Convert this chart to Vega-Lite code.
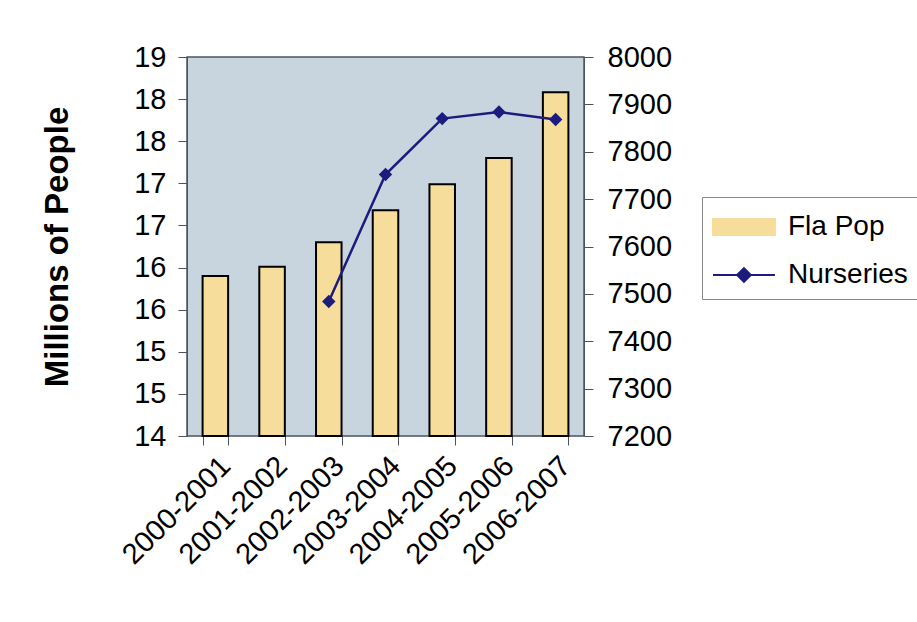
{
  "$schema": "https://vega.github.io/schema/vega-lite/v6.json",
  "width": 397,
  "height": 379,
  "autosize": {"type": "none"},
  "padding": {"left": 187, "top": 57, "right": 333, "bottom": 186},
  "background": "white",
  "config": {
    "font": "Liberation Sans",
    "view": {"fill": "#c9d5de", "stroke": "#4a5560", "strokeWidth": 1.5},
    "axis": {
      "grid": false,
      "labelColor": "black",
      "labelFontSize": 29,
      "labelFont": "Liberation Sans",
      "domainColor": "#4a5560",
      "tickColor": "#4a5560",
      "tickSize": 9
    },
    "legend": {
      "orient": "none",
      "legendX": 515,
      "legendY": 140,
      "labelFontSize": 28,
      "labelColor": "black",
      "strokeColor": "#888888",
      "padding": 10,
      "symbolSize": 1444,
      "rowPadding": 14,
      "labelOffset": 36
    }
  },
  "data": {
    "values": [
      {"year": "2000-2001", "pop": 15.9, "nurseries": null},
      {"year": "2001-2002", "pop": 16.01, "nurseries": null},
      {"year": "2002-2003", "pop": 16.3, "nurseries": 7484},
      {"year": "2003-2004", "pop": 16.68, "nurseries": 7752},
      {"year": "2004-2005", "pop": 16.99, "nurseries": 7870},
      {"year": "2005-2006", "pop": 17.3, "nurseries": 7884},
      {"year": "2006-2007", "pop": 18.08, "nurseries": 7868}
    ]
  },
  "layer": [
    {
      "mark": {"type": "bar", "stroke": "black", "strokeWidth": 2},
      "encoding": {
        "x": {
          "field": "year",
          "type": "nominal",
          "sort": null,
          "scale": {"paddingInner": 0.55, "paddingOuter": 0.275},
          "axis": {"title": null, "labelAngle": -45, "tickBand": "extent", "labelPadding": 6, "domain": false}
        },
        "y": {
          "field": "pop",
          "type": "quantitative",
          "scale": {"domain": [14, 18.5], "zero": false, "nice": false},
          "axis": {
            "title": "Millions of People",
            "titleFontSize": 33,
            "titleFontWeight": "bold",
            "titleColor": "black",
            "titleFont": "Liberation Sans",
            "titlePadding": 59,
            "values": [14, 14.5, 15, 15.5, 16, 16.5, 17, 17.5, 18, 18.5],
            "format": ".0f",
            "labelPadding": 12
          }
        },
        "y2": {"datum": 14},
        "color": {
          "datum": "Fla Pop",
          "scale": {"domain": ["Fla Pop", "Nurseries"], "range": ["#f6dd9c", "#1c1c7e"]},
          "legend": {
            "title": null,
            "rowPadding": 14,
            "encode": {
              "symbols": {
                "update": {
                  "shape": {"signal": "datum.value === 'Fla Pop' ? 'M-1,-0.42H2.26V0.42H-1Z' : 'M-1,0H2.26M0.63,-0.36L0.99,0L0.63,0.36L0.27,0Z'"},
                  "fill": {"signal": "datum.value === 'Fla Pop' ? '#f6dd9c' : '#1c1c7e'"},
                  "stroke": {"signal": "datum.value === 'Fla Pop' ? '#000000' : '#1c1c7e'"},
                  "strokeWidth": {"value": 2},
                  "opacity": {"value": 1}
                }
              }
            }
          }
        }
      }
    },
    {
      "mark": {"type": "line", "strokeWidth": 2.5, "point": {"shape": "diamond", "size": 180, "filled": true, "opacity": 1}},
      "encoding": {
        "x": {"field": "year", "type": "nominal", "sort": null},
        "y": {
          "field": "nurseries",
          "type": "quantitative",
          "scale": {"domain": [7200, 8000], "zero": false, "nice": false},
          "axis": {
            "orient": "right",
            "title": null,
            "values": [7200, 7300, 7400, 7500, 7600, 7700, 7800, 7900, 8000],
            "format": "d",
            "labelPadding": 14
          }
        },
        "color": {
          "datum": "Nurseries",
          "legend": {
            "title": null,
            "rowPadding": 14,
            "encode": {
              "symbols": {
                "update": {
                  "shape": {"signal": "datum.value === 'Fla Pop' ? 'M-1,-0.42H2.26V0.42H-1Z' : 'M-1,0H2.26M0.63,-0.36L0.99,0L0.63,0.36L0.27,0Z'"},
                  "fill": {"signal": "datum.value === 'Fla Pop' ? '#f6dd9c' : '#1c1c7e'"},
                  "stroke": {"signal": "datum.value === 'Fla Pop' ? '#000000' : '#1c1c7e'"},
                  "strokeWidth": {"value": 2},
                  "opacity": {"value": 1}
                }
              }
            }
          }
        }
      }
    }
  ],
  "resolve": {"scale": {"y": "independent"}}
}
